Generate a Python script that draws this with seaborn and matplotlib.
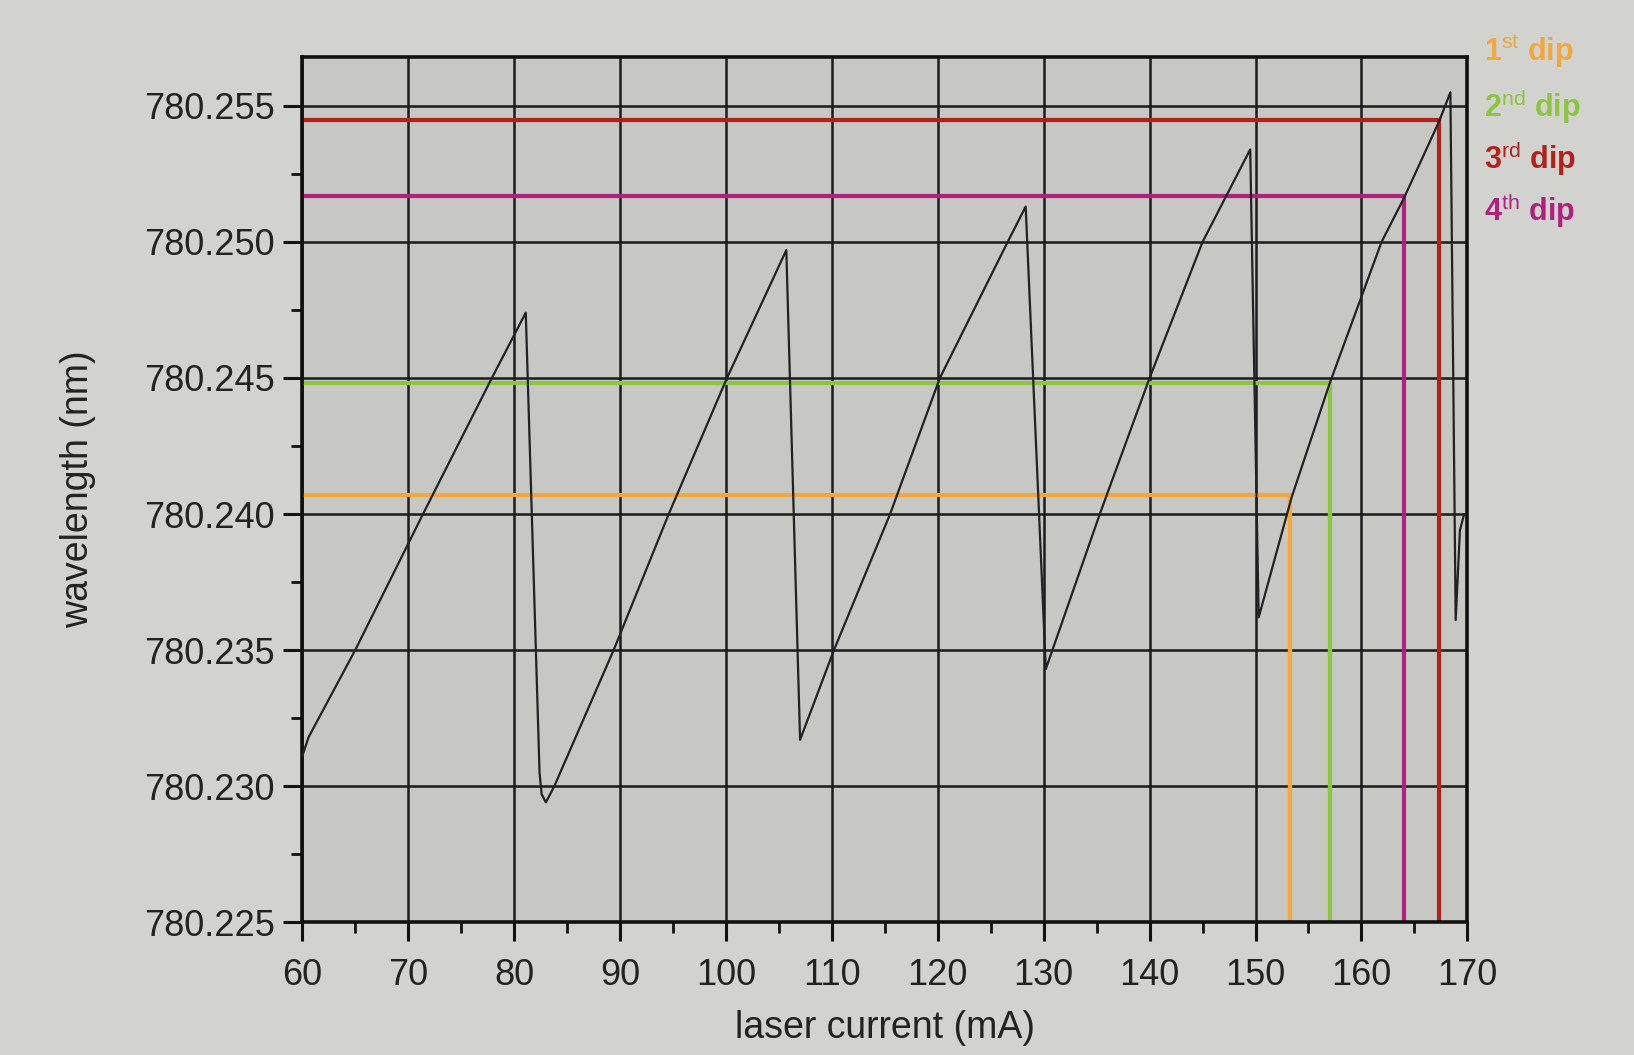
import numpy as np
import pandas as pd
import matplotlib
matplotlib.use("Agg")
import matplotlib.pyplot as plt
import seaborn as sns
from matplotlib.ticker import MultipleLocator, FormatStrFormatter

# ---- data ----
current_mA = [60.0, 60.6, 65.0, 71.4, 77.9, 81.1, 82.4, 82.6, 83.0, 83.8,
              89.4, 94.6, 100.1, 105.7, 107.0, 110.2, 115.5, 120.2, 126.6,
              128.3, 130.2, 135.3, 140.0, 145.0, 149.5, 150.3, 153.4,
              157.0, 161.9, 164.0, 167.3, 168.4, 168.9, 169.3, 169.7]
wavelength_nm = [780.2311, 780.2318, 780.2350, 780.2400, 780.2450,
                 780.2474, 780.2305, 780.2297, 780.2294, 780.2300, 780.2350,
                 780.2400, 780.2450, 780.2497, 780.2317, 780.2350, 780.2400,
                 780.2450, 780.2500, 780.2513, 780.2343, 780.2400,
                 780.2450, 780.2500, 780.2534, 780.2362, 780.2406, 780.2448,
                 780.2500, 780.2516, 780.2544, 780.2555, 780.2361, 780.2394,
                 780.2400]

dip_labels = ["1$^{\\mathrm{st}}$ dip", "2$^{\\mathrm{nd}}$ dip",
              "3$^{\\mathrm{rd}}$ dip", "4$^{\\mathrm{th}}$ dip"]
dip_current = [153.3, 157.0, 167.3, 164.0]
dip_wavelength = [780.2407, 780.2448, 780.2545, 780.2517]
dip_colors = ["#f2a83a", "#8cc63e", "#b3221a", "#b0207f"]

x_ticks = [60, 70, 80, 90, 100, 110, 120, 130, 140, 150, 160, 170]
y_ticks = [780.225, 780.230, 780.235, 780.240, 780.245, 780.250, 780.255]

# ---- plot ----
sns.set_theme(style="white")
plt.rcParams["font.family"] = ["Liberation Sans", "DejaVu Sans"]
plt.rcParams["mathtext.fontset"] = "custom"
plt.rcParams["mathtext.rm"] = "Liberation Sans"

fig = plt.figure(figsize=(16.34, 10.55), dpi=100, facecolor="#d2d2ce")
ax = fig.add_axes([0.185, 0.126, 0.713, 0.820])
ax.set_facecolor("#c7c7c3")

df = pd.DataFrame({"current": current_mA, "wavelength": wavelength_nm})

xmin, xmax = 60, 170
ymin, ymax = 780.225, 780.2568

# grid
ax.set_xlim(xmin, xmax)
ax.set_ylim(ymin, ymax)
ax.set_xticks(x_ticks)
ax.set_yticks(y_ticks)
ax.xaxis.set_minor_locator(MultipleLocator(5))
ax.yaxis.set_minor_locator(MultipleLocator(0.0025))
ax.yaxis.set_major_formatter(FormatStrFormatter("%.3f"))
ax.grid(True, which="major", color="#1a1a1f", linewidth=1.8, zorder=1)
ax.set_axisbelow(True)

# dip marker lines
for c, w, col in zip(dip_current, dip_wavelength, dip_colors):
    ax.plot([xmin, c, c], [w, w, ymin], color=col, linewidth=3.0,
            zorder=2, solid_joinstyle="miter")

sns.lineplot(data=df, x="current", y="wavelength", ax=ax, color="#222226",
             linewidth=1.6, sort=False, estimator=None, zorder=3)

for sp in ax.spines.values():
    sp.set_color("#111111")
    sp.set_linewidth(2.6)

ax.tick_params(axis="both", which="major", direction="out", length=14,
               width=2.2, color="#111111", labelsize=26, labelcolor="#222222")
ax.tick_params(axis="both", which="minor", direction="out", length=8,
               width=2.0, color="#111111")
ax.tick_params(axis="x", which="major", pad=12)
ax.tick_params(axis="y", which="major", pad=6)
ax.tick_params(left=True, bottom=True, which="both")

ax.set_xlabel("laser current (mA)", fontsize=27, color="#222222", labelpad=12)
ax.set_ylabel("wavelength (nm)", fontsize=27, color="#222222", labelpad=34)

# handwritten-style dip legend
legend_y = [0.951, 0.899, 0.850, 0.800]
for i, yy in enumerate(legend_y):
    fig.text(0.908, yy, dip_labels[i], color=dip_colors[i], fontsize=22,
             ha="left", va="center", fontweight="bold")

fig.savefig("out.png", dpi=100, facecolor=fig.get_facecolor())
